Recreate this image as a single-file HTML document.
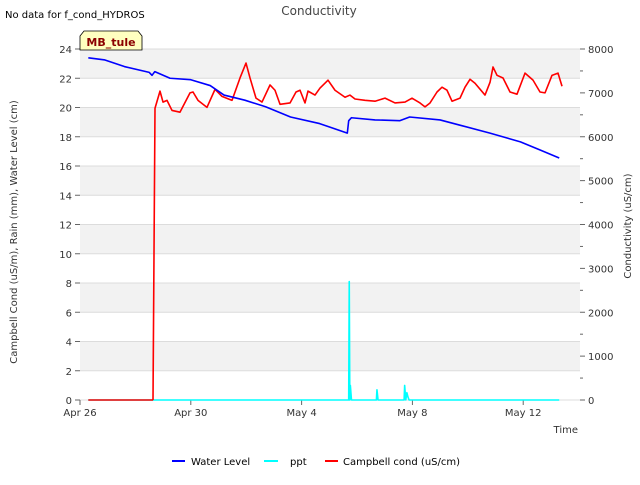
<!DOCTYPE html>
<html><head><meta charset="utf-8"><style>
body{margin:0;background:#fff;font-family:"Liberation Sans","DejaVu Sans",sans-serif}
svg text{font-family:"DejaVu Sans","Liberation Sans",sans-serif}
</style></head><body>
<svg id="chart" width="640" height="480" viewBox="0 0 640 480">
<text x="5" y="18" font-size="10" fill="#000">No data for f_cond_HYDROS</text>
<text x="319" y="15" font-size="12" fill="#444" text-anchor="middle">Conductivity</text>
<g id="grid"></g>
<g id="axes"></g>
<g id="series"></g>
<g>
<path d="M80,50 L80,36 L84,31 L138,31 L142,36 L142,50 Z" fill="#ffffc0" stroke="#000" stroke-width="0.8"/>
<text x="111" y="46" font-size="11" font-weight="bold" fill="#8b0000" text-anchor="middle">MB_tule</text>
</g>
<text transform="translate(17,232) rotate(-90)" font-size="10" fill="#333" text-anchor="middle">Campbell Cond (uS/m), Rain (mm), Water Level (cm)</text>
<text transform="translate(631,226) rotate(-90)" font-size="10" fill="#333" text-anchor="middle">Conductivity (uS/cm)</text>
<text x="578" y="433" font-size="10" fill="#333" text-anchor="end">Time</text>
<g>
<g><line x1="172" y1="461" x2="185" y2="461" stroke="#0000ff" stroke-width="2"/><text x="191" y="465" font-size="10" fill="#000">Water Level</text></g>
<g><line x1="264" y1="461" x2="278" y2="461" stroke="#00ffff" stroke-width="2"/><text x="290" y="465" font-size="10" fill="#000">ppt</text></g>
<g><line x1="325" y1="461" x2="338" y2="461" stroke="#ff0000" stroke-width="2"/><text x="343" y="465" font-size="10" fill="#000">Campbell cond (uS/cm)</text></g>
</g>
</svg>
<script>
// days since Apr 26
const wlDays=[0.3,0.9,1.6,2.5,2.6,2.7,3.25,4.0,4.7,5.2,5.95,6.7,7.6,8.65,9.65,9.7,9.8,10.65,11.55,11.9,13.0,13.7,14.8,15.9,16.6,17.3];
const wlVals=[23.4,23.25,22.8,22.4,22.2,22.45,22.0,21.9,21.5,20.85,20.5,20.05,19.35,18.9,18.25,19.1,19.3,19.15,19.1,19.35,19.15,18.8,18.25,17.65,17.1,16.55];
const cPx=[153,155,160,163,167,172,180,190,193,198,207,215,222,232,240,246,250,256,262,270,275,280,290,296,300,305,308,315,320,328,335,345,350,355,365,375,385,395,405,412,420,425,430,437,442,447,452,460,465,470,475,485,490,493,497,503,510,517,525,533,540,545,552,558,562];
const cDays=cPx.map(p=>(p-80)/27.7);
const cVals=[0,6650,7040,6790,6830,6600,6560,7000,7020,6830,6670,7080,6920,6830,7340,7680,7340,6880,6790,7180,7060,6740,6770,7020,7060,6770,7040,6950,7110,7290,7060,6900,6950,6860,6830,6810,6880,6770,6790,6880,6770,6680,6770,7020,7130,7060,6810,6880,7130,7310,7220,6950,7240,7590,7400,7340,7020,6970,7450,7290,7020,7000,7400,7450,7150];
const pptDays=[0.3,9.7,9.72,9.74,9.76,9.8,10.7,10.72,10.76,10.8,11.7,11.72,11.76,11.8,11.84,11.88,17.3];
const pptVals=[0,0,8.1,0,1.0,0,0,0.7,0,0,0,1.0,0,0.5,0.2,0,0];
const leftTicks=[0,2,4,6,8,10,12,14,16,18,20,22,24];
const rightTicks=[0,1000,2000,3000,4000,5000,6000,7000,8000];
const xTickDays=[0,4,8,12,16];
const xTickLabels=["Apr 26","Apr 30","May 4","May 8","May 12"];
const X0=80,X1=580,Y0=400,Y1=49;
const x=d=>X0+d*(X1-X0)/18.05;
const yL=v=>Y0-v*(Y0-Y1)/24;
const yR=v=>Y0-v*(Y0-Y1)/8000;
const NS="http://www.w3.org/2000/svg";
function mk(t,a,p){const e=document.createElementNS(NS,t);for(const k in a)e.setAttribute(k,a[k]);p.appendChild(e);return e;}
const grid=document.getElementById('grid'),axes=document.getElementById('axes'),ser=document.getElementById('series');
for(let i=0;i<12;i++){const r=mk('rect',{x:X0,y:yL(2*i+2),width:X1-X0,height:yL(0)-yL(2),fill:(i%2==1)?'#f2f2f2':'#fff'},grid);

}
leftTicks.forEach(v=>{const l=mk('line',{x1:X0,x2:X1,y1:yL(v),y2:yL(v),stroke:'#dcdcdc','stroke-width':1},grid);


const tk=mk('line',{x1:X0-5,x2:X0,y1:yL(v),y2:yL(v),stroke:'#666'},axes);


const t=mk('text',{x:X0-8,y:yL(v)+4,'font-size':10,fill:'#333','text-anchor':'end'},axes);t.textContent=v;

});
rightTicks.forEach((v,i)=>{const tk=mk('line',{x1:X1,x2:X1+5,y1:yR(v),y2:yR(v),stroke:'#666'},axes);


if(i<rightTicks.length-1){const m=mk('line',{x1:X1,x2:X1+3,y1:yR(v+500),y2:yR(v+500),stroke:'#666'},axes);

}
const t=mk('text',{x:X1+8,y:yR(v)+4,'font-size':10,fill:'#333'},axes);t.textContent=v;

});
xTickDays.forEach((d,i)=>{const tk=mk('line',{x1:x(d),x2:x(d),y1:Y0,y2:Y0+5,stroke:'#666'},axes);


const t=mk('text',{x:x(d),y:Y0+16,'font-size':10,fill:'#333','text-anchor':'middle'},axes);t.textContent=xTickLabels[i];

});
function line(ds,vs,fy,col,name){const p=mk('polyline',{points:ds.map((d,i)=>x(d)+','+fy(vs[i])).join(' '),fill:'none',stroke:col,'stroke-width':1.6,'stroke-linejoin':'round'},ser);

}
line(pptDays,pptVals,yL,'#00ffff','ppt-line');
line([0.3,2.64],[0,0],yR,'#ff0000','campbell-cond-baseline');
line(cDays,cVals,yR,'#ff0000','campbell-cond-line');
line(wlDays,wlVals,yL,'#0000ff','water-level-line');
</script>
</body></html>
